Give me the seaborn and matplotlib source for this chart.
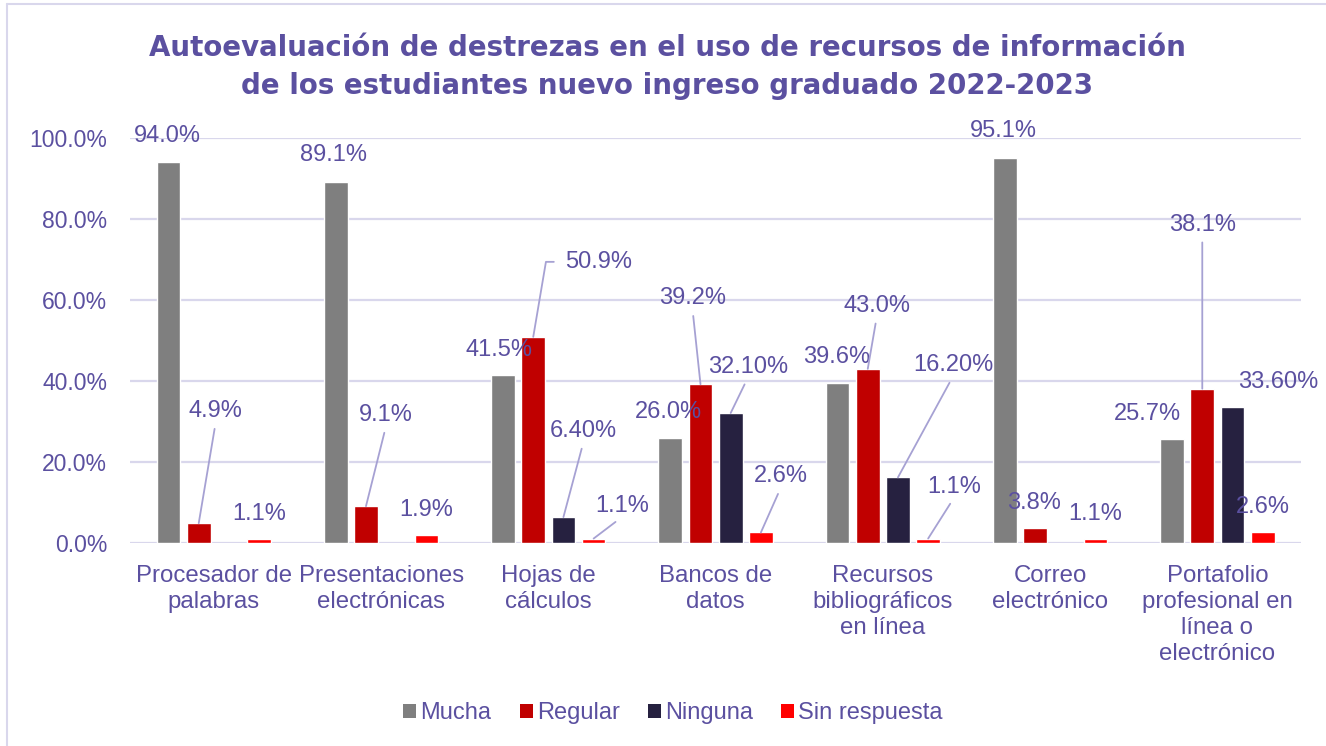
import numpy as np
import pandas as pd
import matplotlib
matplotlib.use("Agg")
import matplotlib.pyplot as plt
import seaborn as sns
from matplotlib.patches import Patch
from matplotlib.lines import Line2D

# ---------------- data ----------------
categories = ["Procesador de\npalabras", "Presentaciones\nelectrónicas", "Hojas de\ncálculos",
              "Bancos de\ndatos", "Recursos\nbibliográficos\nen línea", "Correo\nelectrónico",
              "Portafolio\nprofesional en\nlínea o\nelectrónico"]
series = ["Mucha", "Regular", "Ninguna", "Sin respuesta"]
mucha = [94.0, 89.1, 41.5, 26.0, 39.6, 95.1, 25.7]
regular = [4.9, 9.1, 50.9, 39.2, 43.0, 3.8, 38.1]
ninguna = [np.nan, np.nan, 6.40, 32.10, 16.20, np.nan, 33.60]
sin_resp = [1.1, 1.9, 1.1, 2.6, 1.1, 1.1, 2.6]
label_fmt = {"Mucha": "{:.1f}%", "Regular": "{:.1f}%", "Ninguna": "{:.2f}%", "Sin respuesta": "{:.1f}%"}

colors = ["#7F7F7F", "#C00000", "#262140", "#FF0000"]
TXT = "#5B50A0"
GRID = "#D9D7EC"
LEAD = "#A6A1D3"

# label layout: (category, series) -> (dx px, dy px up, leader)
label_layout = {
    (0, "Mucha"): (-1, 26, None), (0, "Regular"): (17, 112, "s"), (0, "Sin respuesta"): (0, 25, None),
    (1, "Mucha"): (-2, 27, None), (1, "Regular"): (20, 91, "s"), (1, "Sin respuesta"): (0, 25, None),
    (2, "Mucha"): (-4, 25, None), (2, "Regular"): (65, 75, "elbow"), (2, "Ninguna"): (20, 86, "s"),
    (2, "Sin respuesta"): (29, 33, "s"),
    (3, "Mucha"): (-2, 26, None), (3, "Regular"): (-8, 86, "s"), (3, "Ninguna"): (17, 46, "s"),
    (3, "Sin respuesta"): (20, 56, "s"),
    (4, "Mucha"): (-1, 26, None), (4, "Regular"): (9, 63, "s"), (4, "Ninguna"): (55, 112, "s"),
    (4, "Sin respuesta"): (26, 52, "s"),
    (5, "Mucha"): (-1, 27, None), (5, "Regular"): (-1, 25, None), (5, "Sin respuesta"): (0, 25, None),
    (6, "Mucha"): (-25, 25, None), (6, "Regular"): (0, 164, "s"), (6, "Ninguna"): (46, 25, None),
    (6, "Sin respuesta"): (0, 25, None),
}

rows = []
for ci, cat in enumerate(categories):
    for s, vals in zip(series, [mucha, regular, ninguna, sin_resp]):
        v = vals[ci]
        if not np.isnan(v):
            rows.append({"cat": cat, "serie": s, "val": v / 100.0})
df = pd.DataFrame(rows)

# ---------------- figure ----------------
sns.set_theme(style="white")
plt.rcParams["font.family"] = ["Liberation Sans", "DejaVu Sans"]

W, H = 1326, 746
fig = plt.figure(figsize=(W / 100, H / 100), dpi=100)
ax = fig.add_axes([130.2 / W, 1 - 543 / H, 1170.8 / W, 405 / H])

group_width = 0.722
sns.barplot(data=df, x="cat", y="val", hue="serie", order=categories, hue_order=series,
            palette=colors, width=group_width, gap=0.215, ax=ax, legend=False,
            errorbar=None, saturation=1)

ax.set_ylim(0, 1.0)
ax.set_xlim(-0.5, len(categories) - 0.5)
ax.set_yticks(np.arange(0, 1.01, 0.2))
ax.set_yticklabels([f"{t*100:.1f}%" for t in np.arange(0, 1.01, 0.2)])
ax.grid(axis="y", color=GRID, lw=1.6)
ax.set_axisbelow(True)
for sp in ax.spines.values():
    sp.set_visible(False)
ax.tick_params(axis="y", length=0, pad=16.5, labelsize=16.5, labelcolor=TXT)
ax.tick_params(axis="x", length=0, pad=16, labelsize=17.3, labelcolor=TXT)
for t in ax.get_xticklabels():
    t.set_linespacing(1.24)
ax.set_xlabel("")
ax.set_ylabel("")

# ---------------- data labels ----------------
slot = group_width / len(series)
for (ci, s), (dx, dy, lead) in label_layout.items():
    j = series.index(s)
    v = [mucha, regular, ninguna, sin_resp][j][ci]
    x = ci + (j - (len(series) - 1) / 2) * slot
    y = v / 100.0
    txt = label_fmt[s].format(v)
    kw = dict(xy=(x, y), xycoords="data", xytext=(dx, dy), textcoords="offset pixels",
              ha="center", va="center", fontsize=17, color=TXT, zorder=5)
    if lead == "s":
        kw["arrowprops"] = dict(arrowstyle="-", color=LEAD, lw=1.3, shrinkA=2.5, shrinkB=0,
                                relpos=(0.5, 0.0))
    elif lead == "elbow":
        kw["arrowprops"] = dict(arrowstyle="-", color=LEAD, lw=1.3, shrinkA=5.5, shrinkB=0,
                                relpos=(0.0, 0.5),
                                connectionstyle="angle,angleA=0,angleB=80.4,rad=0")
    ax.annotate(txt, **kw)

# ---------------- title ----------------
fig.text(0.503, 1 - 48 / H, "Autoevaluación de destrezas en el uso de recursos de información",
         ha="center", va="center", fontsize=19.9, fontweight="bold", color=TXT,
         family=["DejaVu Sans"])
fig.text(0.503, 1 - 86 / H, "de los estudiantes nuevo ingreso graduado 2022-2023",
         ha="center", va="center", fontsize=19.9, fontweight="bold", color=TXT,
         family=["DejaVu Sans"])

# ---------------- legend ----------------
handles = [Patch(facecolor=c, edgecolor="none", label=s) for s, c in zip(series, colors)]
fig.legend(handles=handles, loc="center", bbox_to_anchor=(673 / W, 1 - 713 / H), ncol=4,
           frameon=False, fontsize=17, labelcolor=TXT, handlelength=0.55, handleheight=0.55,
           handletextpad=0.17, columnspacing=1.2)

# ---------------- chart border ----------------
fig.add_artist(Line2D([7 / W, 7 / W], [0, 1 - 4 / H], transform=fig.transFigure, color=GRID, lw=1.5))
fig.add_artist(Line2D([7 / W, 1], [1 - 4 / H, 1 - 4 / H], transform=fig.transFigure, color=GRID, lw=1.5))

fig.savefig("out.png", dpi=100, facecolor="white")
